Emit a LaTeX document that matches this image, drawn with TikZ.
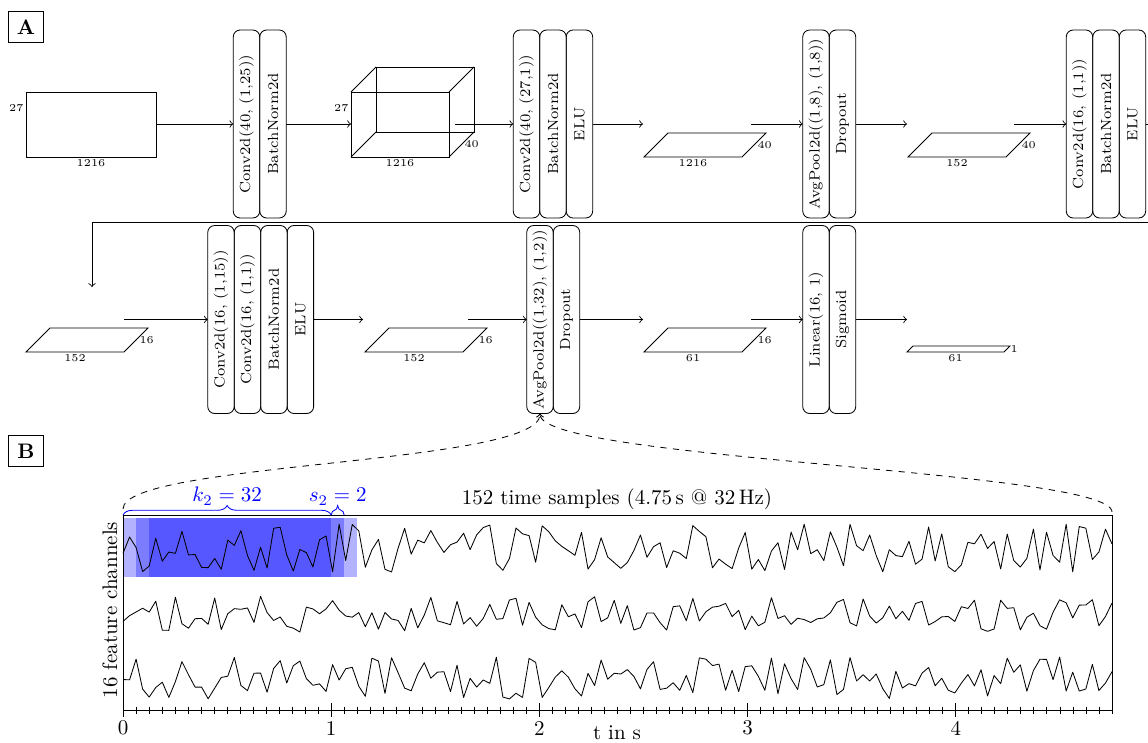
\documentclass[tikz,border=0pt]{standalone}
\usepackage{amsmath, amssymb}
\usepackage{xcolor}
\usetikzlibrary{positioning,decorations.pathreplacing}

\begin{document}
\begin{tikzpicture}[x=0.476pt, y=-0.476pt,
		layer/.style={draw, rounded corners=3.3pt, minimum width=12.6pt, minimum height=89.5pt, inner sep=0pt, outer sep=0pt, font=\scriptsize},
		dimlab/.style={font=\tiny, inner sep=1pt},
		panel/.style={draw, font=\bfseries, inner sep=0pt, minimum width=17pt, minimum height=14.8pt},
		brc/.style={blue, decorate, decoration={brace, amplitude=4.5pt}}]
	\useasboundingbox (0,0) rectangle (1148,742);
	\def\ra{124}
	\def\rb{319.5}
	\def\tz{123}
	\def\ts{208.2}
	\pgfmathsetmacro{\dt}{989/151}
	
	\node[panel] (pA) at (26,27) {A};
	\node[panel] (pB) at (26,451) {B};
	
	% input and first cube
	\draw (26,92) rectangle (156,157);
	\node[dimlab, anchor=east] (inH) at (26,108) {27};
	\node[dimlab, anchor=north] (inW) at (91,157) {1216};
	\draw (351,92) rectangle (449,157) (376,67) rectangle (474,132);
	\foreach \cx/\cy in {351/92, 449/92, 351/157, 449/157}
		\draw (\cx,\cy) -- ++(25,-25);
	\node[dimlab, anchor=east] (cuH) at (351,108) {27};
	\node[dimlab, anchor=north] (cuW) at (400,157) {1216};
	\node[dimlab, anchor=west] (cuD) at (462,144) {40};
	
	% flat tensors
	\foreach \n/\px/\py/\pw/\pd/\lw/\ld in {p1/644/157/98/24/1216/40, p2/908/157/98/24/152/40,
			p3/26/352/98/24/152/16, p4/365/352/98/24/152/16, p5/644/352/98/24/61/16, p6/907/352/97/6/61/1} {
		\draw (\px,\py) -- ++(\pd,-\pd) -- ++(\pw,0) -- ++(-\pd,\pd) -- cycle;
		\node[dimlab, anchor=north] (\n w) at (\px+\pw/2,\py) {\lw};
		\node[dimlab, anchor=west] (\n d) at (\px+\pw+\pd/2+1,\py-\pd/2) {\ld};
	}
	
	% layers, row 1
	\node[layer] (c1a) at (246.5,\ra) {\rotatebox{90}{Conv2d(40, (1,25))}};
	\node[layer, right=0pt of c1a] (c1b) {\rotatebox{90}{BatchNorm2d}};
	\node[layer] (c2a) at (526.5,\ra) {\rotatebox{90}{Conv2d(40, (27,1))}};
	\node[layer, right=0pt of c2a] (c2b) {\rotatebox{90}{BatchNorm2d}};
	\node[layer, right=0pt of c2b] (c2c) {\rotatebox{90}{ELU}};
	\node[layer] (c3a) at (816,\ra) {\rotatebox{90}{AvgPool2d((1,8), (1,8))}};
	\node[layer, right=0pt of c3a] (c3b) {\rotatebox{90}{Dropout}};
	\node[layer] (c4a) at (1079.5,\ra) {\rotatebox{90}{Conv2d(16, (1,1))}};
	\node[layer, right=0pt of c4a] (c4b) {\rotatebox{90}{BatchNorm2d}};
	\node[layer, right=0pt of c4b] (c4c) {\rotatebox{90}{ELU}};
	
	% layers, row 2
	\node[layer] (c5a) at (221,\rb) {\rotatebox{90}{Conv2d(16, (1,15))}};
	\node[layer, right=0pt of c5a] (c5b) {\rotatebox{90}{Conv2d(16, (1,1))}};
	\node[layer, right=0pt of c5b] (c5c) {\rotatebox{90}{BatchNorm2d}};
	\node[layer, right=0pt of c5c] (c5d) {\rotatebox{90}{ELU}};
	\node[layer] (c6a) at (540,\rb) {\rotatebox{90}{AvgPool2d((1,32), (1,2))}};
	\node[layer, right=0pt of c6a] (c6b) {\rotatebox{90}{Dropout}};
	\node[layer] (c7a) at (816,\rb) {\rotatebox{90}{Linear(16, 1)}};
	\node[layer, right=0pt of c7a] (c7b) {\rotatebox{90}{Sigmoid}};
	
	% arrows
	\coordinate (inOut) at (156,\ra);
	\coordinate (cuIn) at (351,\ra);
	\coordinate (cuOut) at (455,\ra);
	\coordinate (p1In) at (643,\ra);
	\coordinate (p1Out) at (751,\ra);
	\coordinate (p2In) at (907,\ra);
	\coordinate (p2Out) at (1014,\ra);
	\coordinate (p3Out) at (124,\rb);
	\coordinate (p4In) at (363,\rb);
	\coordinate (p4Out) at (468,\rb);
	\coordinate (p5In) at (643,\rb);
	\coordinate (p5Out) at (751,\rb);
	\coordinate (p6In) at (907,\rb);
	\foreach \a/\b in {inOut/c1a.west, c1b.east/cuIn, cuOut/c2a.west, c2c.east/p1In, p1Out/c3a.west,
			c3b.east/p2In, p2Out/c4a.west, p3Out/c5a.west, c5d.east/p4In, p4Out/c6a.west,
			c6b.east/p5In, p5Out/c7a.west, c7b.east/p6In}
		\draw[->] (\a) -- (\b);
	\coordinate (wrap) at (1150,222);
	\coordinate (drop) at (92,287);
	\draw[->] (c4c.east) -| (wrap) -| (drop);
	
	% panel B
	\coordinate (fTL) at (\tz,515);
	\coordinate (fTR) at (1112,515);
	\foreach \i in {0,1,2}
		\fill[blue, opacity=0.3] (\tz+\i*13,518) rectangle ++(\ts,59);
	\pgfmathsetseed{7}
	\foreach \yc/\am in {548/24, 614/18, 678/21}
		\draw[line join=round] plot[samples at={0,...,151}] ({\tz+\x*\dt}, {\yc+\am*rand});
	\draw (\tz,710) -- (fTL) -- (fTR) -- (1112,710) -- cycle;
	\foreach \i in {0,...,76}
		\draw (\tz+\i*\ts/16,706.5) -- ++(0,7);
	\foreach \t in {0,...,4} {
		\draw (\tz+\t*\ts,703) -- ++(0,14);
		\node (tk\t) at (\tz+\t*\ts,728) {\t};
	}
	\draw[brc] (fTL) -- (\tz+\ts,515) node[midway, above=4.5pt, inner sep=0pt] (k2) {$k_2 = 32$};
	\draw[brc] (\tz+\ts,515) -- (\tz+\ts+13,515) node[midway, above=4.5pt, inner sep=0pt] (s2) {$s_2 = 2$};
	\node (ttl) at (617,499) {152 time samples (4.75\,s @ 32\,Hz)};
	\node[rotate=90] (ylab) at (110,610) {16 feature channels};
	\node[anchor=base, inner sep=0pt] (xlab) at (617,739) {t in s};
	
	% zoom lines
	\coordinate (zl) at (\tz,509);
	\coordinate (zr) at (1112,512);
	\draw[dashed, ->] (zl) .. controls (\tz,462) and (540,465) .. (c6a.south);
	\draw[dashed, ->] (zr) .. controls (1112,470) and (540,460) .. (c6a.south);
\end{tikzpicture}
\end{document}
